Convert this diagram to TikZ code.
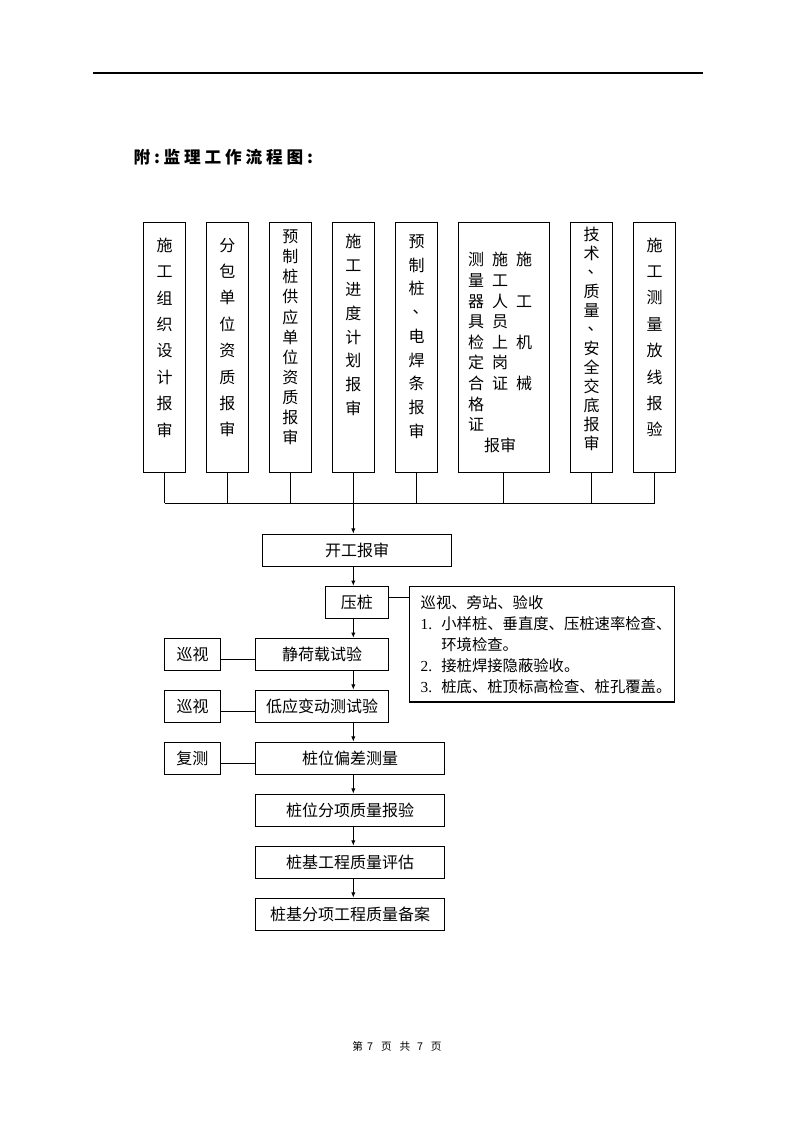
\documentclass[tikz,border=0pt]{standalone}
\usepackage{fontspec}
\setmainfont{Noto Sans CJK SC}
\newfontfamily\titlefont[LetterSpace=23]{Noto Sans CJK SC}
\newfontfamily\numfont{Liberation Serif}
\usetikzlibrary{arrows.meta,positioning}

\newcommand\vdun{\makebox[1em][l]{\hspace{.25em}\raisebox{.3em}{、}}}
\newcommand\numitem[1]{\makebox[15.5pt][l]{\numfont #1}}

\begin{document}
\begin{tikzpicture}[x=0.75pt,y=-0.75pt,line width=0.8pt,
	box/.style={draw,minimum width=#1,minimum height=24pt,inner sep=0pt,font=\fontsize{12}{14}\selectfont},
	colbox/.style={draw,minimum width=#1,minimum height=187.5pt,inner sep=0pt},
	coltext/.style={align=center,inner sep=0pt,font=\fontsize{12}{#1}\selectfont},
	arr/.style={-{Latex[length=4pt,width=3.2pt]}}]
	\useasboundingbox (0,0) rectangle (794,1123);

	\draw (93,73) -- (703,73);
	\node[anchor=west,inner sep=0pt,font=\titlefont\bfseries\fontsize{12.5}{14}\selectfont] (title) at (133,157) {附:监理工作流程图:};

	\foreach \n/\x/\w in {1/164.5/31.5pt,2/227.3/31.5pt,3/290.3/31.5pt,4/353.3/31.5pt,
		5/416.7/31.5pt,6/503.8/68.25pt,7/591.5/31.5pt,8/654.5/31.5pt}
		\node[colbox=\w] (b\n) at (\x,347.3) {};

	\node[coltext=19.8] (t1) at (164.5,337.5) {施\\工\\组\\织\\设\\计\\报\\审};
	\node[coltext=19.8] (t2) at (227.3,337.5) {分\\包\\单\\位\\资\\质\\报\\审};
	\node[coltext=15.1] (t3) at (290.3,337.5) {预\\制\\桩\\供\\应\\单\\位\\资\\质\\报\\审};
	\node[coltext=17.85] (t4) at (353.3,325) {施\\工\\进\\度\\计\\划\\报\\审};
	\node[coltext=17.8] (t5) at (416.7,336.7) {预\\制\\桩\\\vdun\\电\\焊\\条\\报\\审};
	\node[coltext=15.45] (t6) at (500,354.5) {\begin{tabular}{@{}c@{\hspace{6pt}}c@{\hspace{6pt}}c@{}}
		测 & 施 & 施\\ 量 & 工 & \\ 器 & 人 & 工\\ 具 & 员 & \\ 检 & 上 & 机\\
		定 & 岗 & \\ 合 & 证 & 械\\ 格 & & \\ 证 & & \\ \multicolumn{3}{c}{报审}
		\end{tabular}};
	\node[coltext=14.3] (t7) at (591.5,338.8) {技\\术\\\vdun\\质\\量\\\vdun\\安\\全\\交\\底\\报\\审};
	\node[coltext=19.8] (t8) at (654.5,337.4) {施\\工\\测\\量\\放\\线\\报\\验};

	\coordinate (bus) at (0,503.3);
	\foreach \n in {1,...,8}
		\draw (b\n.south) -- (b\n.south |- bus);
	\draw (b1.south |- bus) -- (b8.south |- bus);

	\node[box=142pt] (kaigong) at (357,550.3) {开工报审};
	\node[box=47.25pt] (yazhuang) at (356.8,602.5) {压桩};
	\node[box=99.5pt] (jinghezai) at (322,654.5) {静荷载试验};
	\node[box=99.5pt] (diyingbian) at (322,706.3) {低应变动测试验};
	\node[box=142pt] (piancha) at (350,758.3) {桩位偏差测量};
	\node[box=142pt] (baoyan) at (350,810.3) {桩位分项质量报验};
	\node[box=142pt] (pinggu) at (350,862.3) {桩基工程质量评估};
	\node[box=142pt] (beian) at (350,914.3) {桩基分项工程质量备案};
	\node[box=42.3pt] (xunshiA) at (192.5,654.5) {巡视};
	\node[box=42.3pt] (xunshiB) at (192.5,706.3) {巡视};
	\node[box=42.3pt] (fuce) at (192.3,758.3) {复测};

	\node[draw,minimum width=198.75pt,minimum height=86.5pt,inner xsep=8.55pt,inner ysep=0pt,
		text width=181.65pt,align=left,font=\fontsize{11.5}{15.75}\selectfont] (note) at (541.8,644.3)
		{巡视、旁站、验收\\ \numitem{1.}小样桩、垂直度、压桩速率检查、\\ \hspace*{15.5pt}环境检查。\\
		\numitem{2.}接桩焊接隐蔽验收。\\ \numitem{3.}桩底、桩顶标高检查、桩孔覆盖。};

	\draw[arr] (b4.south |- bus) -- (b4.south |- kaigong.north);
	\foreach \a/\b in {kaigong/yazhuang,yazhuang/jinghezai,jinghezai/diyingbian,diyingbian/piancha,
		piancha/baoyan,baoyan/pinggu,pinggu/beian}
		\draw[arr] (\a.south -| b4.south) -- (\b.north -| b4.south);
	\foreach \a/\b in {xunshiA/jinghezai,xunshiB/diyingbian,fuce/piancha}
		\draw ([yshift=-3.6pt]\a.east) -- ([yshift=-3.6pt]\b.west);
	\draw ([yshift=3.6pt]yazhuang.east) -- ([yshift=3.6pt]yazhuang.east -| note.west);

	\node[font=\fontsize{8}{10}\selectfont] (footer) at (397,1046)
		{第\hspace{3pt}7\hspace{6pt}页\hspace{6pt}共\hspace{5pt}7\hspace{6pt}页};
\end{tikzpicture}
\end{document}
